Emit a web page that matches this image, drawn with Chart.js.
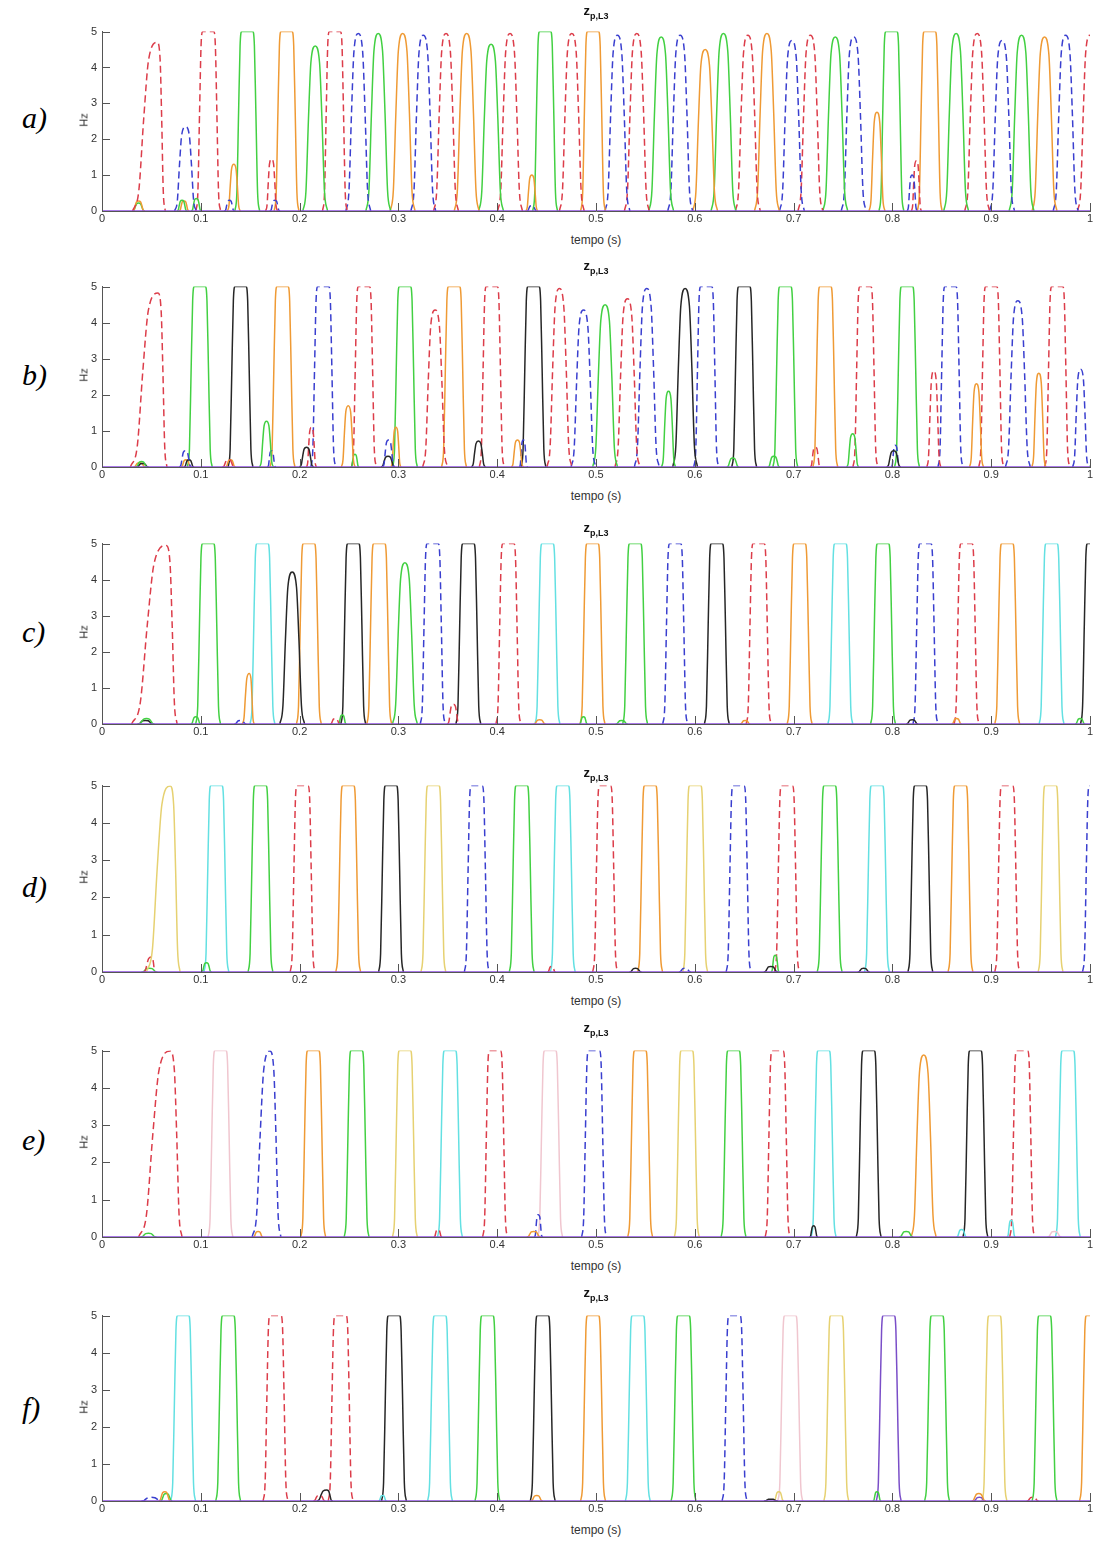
<!DOCTYPE html>
<html>
<head>
<meta charset="utf-8">
<script src="https://cdn.jsdelivr.net/npm/chart.js@4.4.1/dist/chart.umd.min.js"></script>
<style>
  body { margin: 0; background: #fff; width: 1097px; height: 1542px; position: relative; overflow: hidden; font-family: "Liberation Sans", Arial, sans-serif; }
  canvas.panel { position: absolute; left: 50px; }
  .lbl { position: absolute; left: 22px; font-family: "Liberation Serif", "Times New Roman", serif; font-style: italic; font-size: 30px; line-height: 30px; color: #000; transform: translateY(-50%); }
  .ttl { position: absolute; left: 596px; font-weight: bold; font-size: 13px; line-height: 13px; color: #111; transform: translate(-50%, -50%); white-space: nowrap; }
  .ttl sub { font-size: 9px; vertical-align: -4px; }
  .xt { position: absolute; left: 596px; font-size: 12px; line-height: 12px; color: #333; transform: translate(-50%, -50%); white-space: nowrap; }
  .hz { position: absolute; left: 84px; font-size: 11px; line-height: 11px; color: #333; transform: translate(-50%, -50%) rotate(-90deg); }
</style>
</head>
<body>
<script>
// eixos
const xTicks = [0, 0.1, 0.2, 0.3, 0.4, 0.5, 0.6, 0.7, 0.8, 0.9, 1];
const xTickLabels = ["0", "0.1", "0.2", "0.3", "0.4", "0.5", "0.6", "0.7", "0.8", "0.9", "1"];
const yTicks = [0, 1, 2, 3, 4, 5];
const yTickLabels = ["0", "1", "2", "3", "4", "5"];
const panelLabels = ["a)", "b)", "c)", "d)", "e)", "f)"];
const xTitle = "tempo (s)";
const yTitle = "Hz";

// pulsos: [serie, centro (s), altura (Hz), meia largura esq., meia largura dir.]
const pulsesA = [
  ["r", 0.056, 4.7, 0.025, 0.008], ["o", 0.037, 0.28, 0.006], ["g", 0.037, 0.22, 0.006],
  ["b", 0.0845, 2.35, 0.011], ["g", 0.081, 0.3, 0.005], ["o", 0.083, 0.28, 0.005], ["g", 0.0955, 0.35, 0.005],
  ["r", 0.1075, 5], ["b", 0.129, 0.3, 0.005], ["o", 0.1334, 1.3, 0.0065], ["g", 0.147, 5],
  ["r", 0.1716, 1.45, 0.006], ["b", 0.175, 0.3, 0.005], ["o", 0.1868, 5], ["g", 0.2158, 4.6],
  ["r", 0.2357, 5], ["b", 0.2594, 4.95], ["g", 0.2796, 4.95], ["o", 0.3043, 4.95], ["b", 0.3252, 4.9],
  ["r", 0.3482, 4.95], ["o", 0.3691, 4.95], ["g", 0.3938, 4.65], ["r", 0.413, 4.95],
  ["o", 0.435, 1.0, 0.006], ["b", 0.435, 0.15, 0.005], ["g", 0.4485, 5], ["r", 0.4755, 4.95],
  ["o", 0.497, 5], ["b", 0.5217, 4.9], ["r", 0.5413, 4.95], ["g", 0.566, 4.85], ["b", 0.5852, 4.9],
  ["o", 0.6105, 4.5], ["g", 0.629, 4.95], ["r", 0.6537, 4.9], ["o", 0.673, 4.95], ["b", 0.6983, 4.75],
  ["r", 0.717, 4.9], ["g", 0.7422, 4.85], ["b", 0.7608, 4.85], ["o", 0.7844, 2.75, 0.008],
  ["g", 0.799, 5], ["b", 0.82, 1.0, 0.005], ["r", 0.8243, 1.4, 0.005], ["o", 0.8378, 5],
  ["g", 0.8645, 4.95], ["r", 0.8858, 4.95], ["b", 0.911, 4.75], ["g", 0.9307, 4.9], ["o", 0.954, 4.85],
  ["b", 0.9753, 4.9], ["r", 1.0, 4.9]
];
const pulsesB = [
  ["r", 0.0567, 4.82, 0.028, 0.009], ["g", 0.04, 0.15, 0.006], ["k", 0.041, 0.1, 0.006], ["o", 0.038, 0.12, 0.006],
  ["b", 0.0844, 0.45, 0.006], ["k", 0.088, 0.2, 0.005], ["o", 0.085, 0.2, 0.005], ["g", 0.099, 5],
  ["r", 0.128, 0.2, 0.006], ["o", 0.13, 0.2, 0.005], ["k", 0.1402, 5], ["g", 0.1665, 1.27, 0.007],
  ["b", 0.1716, 0.45, 0.004], ["o", 0.1827, 5], ["k", 0.207, 0.55, 0.007], ["r", 0.212, 1.1, 0.005],
  ["b", 0.2239, 5], ["o", 0.2492, 1.7, 0.007], ["g", 0.256, 0.35, 0.004], ["r", 0.2651, 5],
  ["b", 0.29, 0.75, 0.006], ["k", 0.2895, 0.3, 0.007], ["o", 0.2975, 1.1, 0.005], ["g", 0.3066, 5],
  ["r", 0.3371, 4.35], ["o", 0.3563, 5], ["k", 0.381, 0.72, 0.007], ["r", 0.3945, 5],
  ["o", 0.4205, 0.75, 0.006], ["b", 0.4265, 0.75, 0.004], ["k", 0.4367, 5], ["r", 0.463, 4.95],
  ["b", 0.4873, 4.35], ["g", 0.5092, 4.5], ["r", 0.5318, 4.66], ["b", 0.5514, 4.95],
  ["g", 0.5734, 2.1, 0.007], ["k", 0.5902, 4.95], ["b", 0.6115, 5], ["g", 0.6385, 0.25, 0.006],
  ["k", 0.65, 5], ["g", 0.68, 0.3, 0.006], ["g", 0.6916, 5], ["r", 0.722, 0.55, 0.005], ["o", 0.7321, 5],
  ["g", 0.7598, 0.92, 0.006], ["r", 0.7726, 5], ["k", 0.8013, 0.45, 0.007], ["b", 0.803, 0.6, 0.004],
  ["g", 0.8148, 5], ["r", 0.8419, 2.66, 0.007], ["b", 0.8587, 5], ["o", 0.8851, 2.31, 0.007],
  ["r", 0.9, 5], ["b", 0.927, 4.61], ["o", 0.9482, 2.6, 0.007], ["r", 0.9668, 5],
  ["b", 0.9905, 2.71, 0.008], ["g", 1.008, 2, 0.008]
];
const pulsesC = [
  ["r", 0.065, 4.95, 0.035, 0.011], ["g", 0.045, 0.15, 0.008], ["k", 0.044, 0.1, 0.008],
  ["g", 0.095, 0.2, 0.005], ["g", 0.1074, 5], ["b", 0.14, 0.1, 0.006], ["o", 0.149, 1.4, 0.007, 0.005],
  ["c", 0.1624, 5], ["k", 0.1925, 4.21], ["o", 0.2094, 5], ["r", 0.236, 0.15, 0.005],
  ["g", 0.2432, 0.25, 0.004], ["k", 0.2543, 5], ["o", 0.2806, 5], ["g", 0.3066, 4.47],
  ["b", 0.3347, 5], ["r", 0.3556, 0.55, 0.006], ["k", 0.3708, 5], ["r", 0.4113, 5],
  ["o", 0.443, 0.12, 0.006], ["c", 0.4509, 5], ["g", 0.4873, 0.2, 0.004], ["o", 0.4965, 5],
  ["g", 0.526, 0.1, 0.006], ["g", 0.5396, 5], ["b", 0.5801, 5], ["k", 0.6223, 5],
  ["o", 0.651, 0.1, 0.005], ["r", 0.6646, 5], ["o", 0.7061, 5], ["c", 0.7473, 5], ["g", 0.7905, 5],
  ["k", 0.82, 0.12, 0.006], ["b", 0.8334, 5], ["o", 0.865, 0.15, 0.005], ["r", 0.875, 5],
  ["o", 0.9162, 5], ["c", 0.9611, 5], ["g", 0.99, 0.15, 0.005], ["k", 1.003, 5]
];
const pulsesD = [
  ["y", 0.069, 4.99, 0.024, 0.01], ["r", 0.05, 0.4, 0.008, 0.004], ["g", 0.048, 0.1, 0.008],
  ["g", 0.1057, 0.25, 0.005], ["c", 0.1158, 5], ["g", 0.1604, 5], ["r", 0.203, 5], ["o", 0.2492, 5],
  ["k", 0.2925, 5], ["y", 0.3354, 5], ["b", 0.3793, 5], ["g", 0.4248, 5], ["r", 0.455, 0.15, 0.004],
  ["c", 0.4664, 5], ["r", 0.5092, 5], ["k", 0.54, 0.1, 0.006], ["o", 0.5548, 5], ["b", 0.59, 0.1, 0.006],
  ["y", 0.6004, 5], ["b", 0.6443, 5], ["k", 0.677, 0.15, 0.007], ["g", 0.6814, 0.45, 0.004],
  ["r", 0.6933, 5], ["g", 0.7365, 5], ["k", 0.771, 0.1, 0.006], ["c", 0.7844, 5], ["k", 0.8283, 5],
  ["o", 0.8689, 5], ["r", 0.9162, 5], ["y", 0.9601, 5], ["b", 1.005, 5]
];
const pulsesE = [
  ["r", 0.069, 4.99, 0.032, 0.012], ["g", 0.047, 0.1, 0.008], ["p", 0.1199, 5],
  ["o", 0.158, 0.15, 0.005], ["b", 0.17, 4.99, 0.018, 0.011], ["o", 0.2138, 5], ["g", 0.2577, 5],
  ["y", 0.3066, 5], ["r", 0.34, 0.2, 0.004], ["c", 0.3522, 5], ["r", 0.3978, 5],
  ["o", 0.437, 0.15, 0.007], ["b", 0.4417, 0.6, 0.004], ["p", 0.4536, 5], ["b", 0.498, 5],
  ["o", 0.5447, 5], ["y", 0.5919, 5], ["g", 0.6392, 5], ["r", 0.6838, 5], ["k", 0.7203, 0.3, 0.004],
  ["c", 0.7304, 5], ["k", 0.776, 5], ["g", 0.814, 0.15, 0.007], ["o", 0.8317, 4.88],
  ["c", 0.87, 0.2, 0.005], ["k", 0.884, 5], ["c", 0.9202, 0.45, 0.004], ["r", 0.9313, 5],
  ["p", 0.964, 0.15, 0.007], ["c", 0.9776, 5]
];
const pulsesF = [
  ["b", 0.05, 0.1, 0.01], ["o", 0.0635, 0.25, 0.006], ["g", 0.065, 0.2, 0.006], ["c", 0.0821, 5],
  ["g", 0.1277, 5], ["r", 0.1756, 5], ["r", 0.22, 0.15, 0.006], ["k", 0.2273, 0.3, 0.01, 0.006],
  ["r", 0.2415, 5], ["c", 0.284, 0.15, 0.004], ["k", 0.2955, 5], ["c", 0.3421, 5], ["g", 0.3901, 5],
  ["o", 0.44, 0.15, 0.006], ["k", 0.4461, 5], ["o", 0.497, 5], ["c", 0.5423, 5], ["g", 0.5886, 5],
  ["b", 0.6402, 5], ["k", 0.677, 0.05, 0.007], ["y", 0.685, 0.25, 0.005], ["p", 0.6966, 5],
  ["y", 0.7432, 5], ["g", 0.7844, 0.25, 0.004], ["v", 0.7963, 5], ["g", 0.8452, 5],
  ["o", 0.8874, 0.2, 0.007], ["v", 0.888, 0.1, 0.006], ["y", 0.9033, 5], ["r", 0.942, 0.1, 0.006],
  ["g", 0.954, 5], ["o", 1.002, 5]
];
const allPulses = [pulsesA, pulsesB, pulsesC, pulsesD, pulsesE, pulsesF];

// estilos das series
const seriesStyle = {
  r: { color: "#dc3d4a", dash: [7, 4] },
  b: { color: "#3a3fcf", dash: [7, 4] },
  g: { color: "#42d042", dash: [] },
  o: { color: "#ef9a34", dash: [] },
  k: { color: "#262626", dash: [] },
  c: { color: "#63e0e2", dash: [] },
  y: { color: "#e6d171", dash: [] },
  p: { color: "#f0c6cf", dash: [] },
  v: { color: "#7a4ec8", dash: [] }
};
const baseColor = "#8d4ee0";
const axisColor = "#555";
const tickColor = "#333";

// layout (pixels da pagina)
const plotTops = [28, 283, 540, 782, 1047, 1312];
const plotBottoms = [211, 467, 724, 972, 1237, 1501];
const titleYs = [13, 268, 530, 775, 1030, 1295];
const labelYs = [118, 375, 632, 887, 1140, 1408];
const showXTitle = [true, true, false, true, true, true];

// forma do pulso (unidades de meia largura, fracao da altura)
const flatShape = [[-1, 0], [-0.84, 0.1], [-0.7, 0.55], [-0.58, 0.92], [-0.45, 1], [0.45, 1], [0.58, 0.92], [0.7, 0.55], [0.84, 0.1], [1, 0]];
const roundShape = [[-1, 0], [-0.75, 0.12], [-0.55, 0.55], [-0.35, 0.9], [0, 1], [0.35, 0.9], [0.55, 0.55], [0.75, 0.12], [1, 0]];

function pulsePoints(p) {
  const [, c, h, l = 0.0125, r = l] = p;
  const shape = h >= 5 ? flatShape : roundShape;
  return shape.map(([u, f]) => ({ x: c + u * (u < 0 ? l : r), y: h * f }));
}

const innerTicks = {
  id: "innerTicks",
  afterDraw(chart) {
    const { ctx, chartArea: a, scales } = chart;
    ctx.save();
    ctx.strokeStyle = axisColor;
    ctx.lineWidth = 1;
    ctx.beginPath();
    xTicks.forEach(v => {
      const x = Math.round(scales.x.getPixelForValue(v)) + 0.5;
      ctx.moveTo(x, a.bottom); ctx.lineTo(x, a.bottom - 8);
    });
    yTicks.forEach(v => {
      const y = Math.round(scales.y.getPixelForValue(v)) + 0.5;
      ctx.moveTo(a.left, y); ctx.lineTo(a.left + 8, y);
    });
    ctx.stroke();
    ctx.restore();
  }
};

const fontFamily = "'Liberation Sans', Arial, sans-serif";

allPulses.forEach((pulses, i) => {
  const top = plotTops[i] - 8;
  const height = plotBottoms[i] - plotTops[i] + 8 + 22;

  const canvas = document.createElement("canvas");
  canvas.className = "panel";
  canvas.width = 1047;
  canvas.height = height;
  canvas.style.top = top + "px";
  canvas.style.width = "1047px";
  canvas.style.height = height + "px";
  document.body.appendChild(canvas);

  const datasets = [{
    data: [{ x: 0, y: 0 }, { x: 1, y: 0 }],
    borderColor: baseColor,
    borderWidth: 1.6
  }];
  pulses.forEach(p => {
    const st = seriesStyle[p[0]];
    datasets.push({
      data: pulsePoints(p),
      borderColor: st.color,
      borderDash: st.dash,
      borderWidth: 1.5
    });
  });

  new Chart(canvas, {
    type: "line",
    data: { datasets },
    options: {
      responsive: false,
      animation: false,
      devicePixelRatio: 1,
      events: [],
      layout: { padding: { top: 8, right: 7, left: 0, bottom: 0 } },
      plugins: { legend: { display: false }, tooltip: { enabled: false } },
      elements: {
        point: { radius: 0 },
        line: { cubicInterpolationMode: "monotone", fill: false }
      },
      scales: {
        x: {
          type: "linear", min: 0, max: 1,
          afterFit: s => { s.height = 22; },
          afterBuildTicks: s => { s.ticks = xTicks.map(v => ({ value: v })); },
          grid: { display: false, drawTicks: false },
          border: { color: axisColor, width: 1 },
          ticks: {
            padding: 1, color: tickColor, autoSkip: false, maxRotation: 0,
            font: { size: 11, family: fontFamily },
            callback: v => xTickLabels[xTicks.findIndex(t => Math.abs(t - v) < 1e-6)]
          }
        },
        y: {
          type: "linear", min: 0, max: 5,
          afterFit: s => { s.width = 52; },
          afterBuildTicks: s => { s.ticks = yTicks.map(v => ({ value: v })); },
          grid: { display: false, drawTicks: false },
          border: { color: axisColor, width: 1 },
          ticks: {
            padding: 5, color: tickColor,
            font: { size: 11, family: fontFamily },
            callback: v => yTickLabels[yTicks.indexOf(v)]
          }
        }
      }
    },
    plugins: [innerTicks]
  });

  const lbl = document.createElement("div");
  lbl.className = "lbl";
  lbl.style.top = labelYs[i] + "px";
  lbl.textContent = panelLabels[i];
  document.body.appendChild(lbl);

  const ttl = document.createElement("div");
  ttl.className = "ttl";
  ttl.style.top = titleYs[i] + "px";
  ttl.innerHTML = "z<sub>p,L3</sub>";
  document.body.appendChild(ttl);

  const hz = document.createElement("div");
  hz.className = "hz";
  hz.style.top = (plotTops[i] + plotBottoms[i]) / 2 + "px";
  hz.textContent = yTitle;
  document.body.appendChild(hz);

  if (showXTitle[i]) {
    const xt = document.createElement("div");
    xt.className = "xt";
    xt.style.top = plotBottoms[i] + 29 + "px";
    xt.textContent = xTitle;
    document.body.appendChild(xt);
  }
});
</script>
</body>
</html>
